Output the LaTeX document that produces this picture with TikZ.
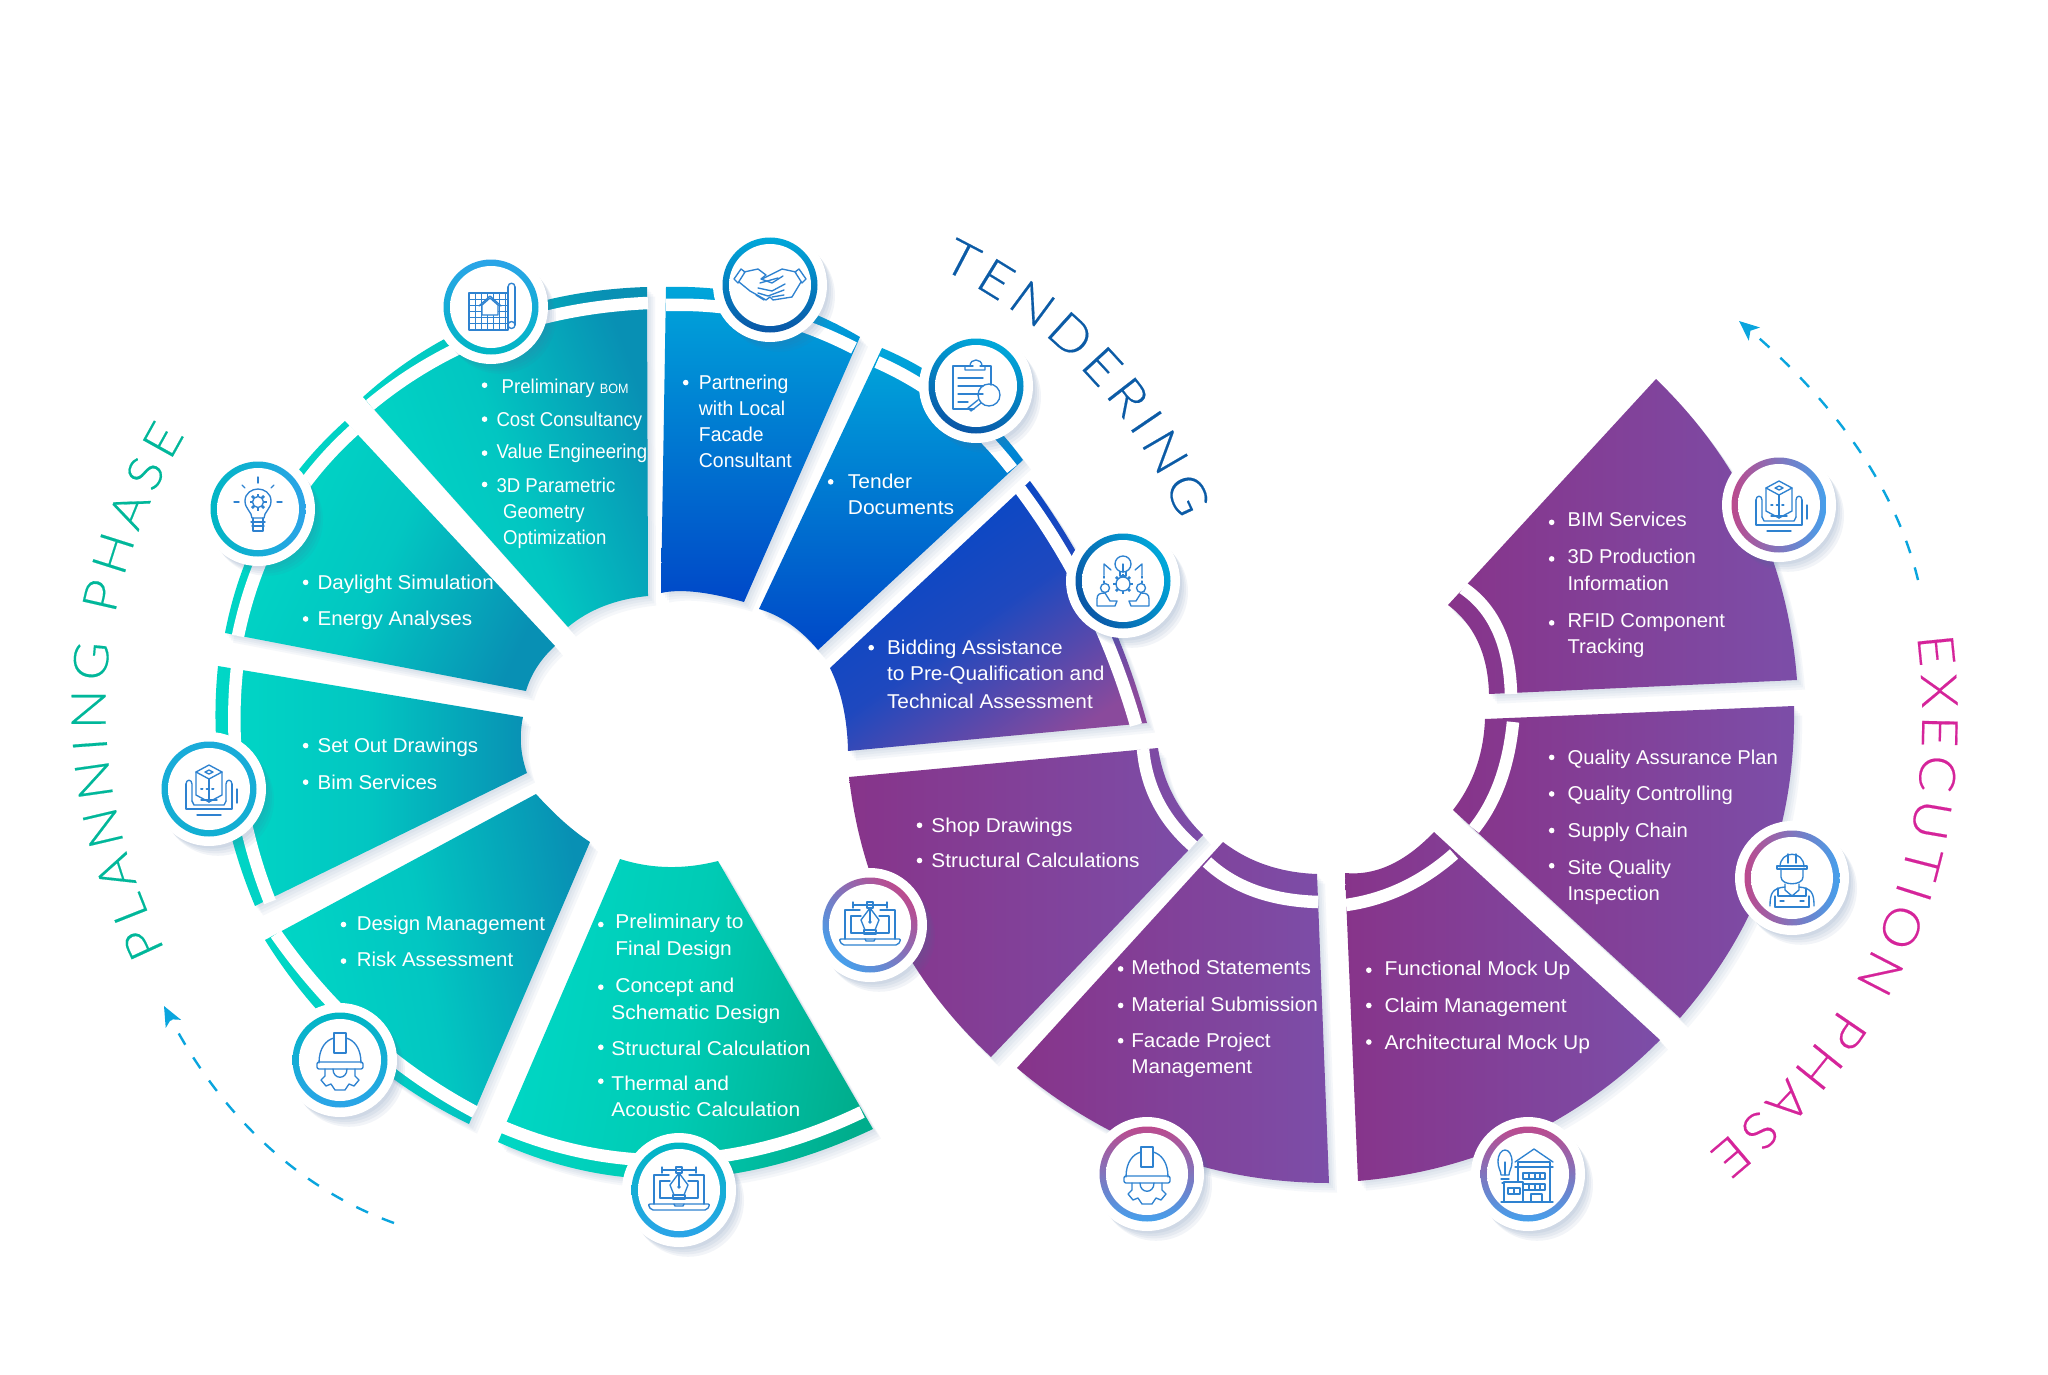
\documentclass[tikz,border=0pt]{standalone}
\usepackage{fontspec}
\setmainfont{Liberation Sans}
\newfontfamily\titlefont[FakeStretch=1.1,FakeBold=0.35]{Lato Light}
\usetikzlibrary{calc,arrows.meta,decorations.text}
\definecolor{tealA}{HTML}{00D8C6}
\definecolor{tealB}{HTML}{0890B4}
\definecolor{tealC}{HTML}{00AD8C}
\definecolor{blueA}{HTML}{00A6DA}
\definecolor{blueB}{HTML}{0048C8}
\definecolor{blueC}{HTML}{8A4A9C}
\definecolor{purpA}{HTML}{87348A}
\definecolor{purpB}{HTML}{7C4EA8}
\definecolor{shcol}{HTML}{4A6F9E}
\definecolor{icol}{HTML}{2E82D0}
\definecolor{diskc}{HTML}{CFE0FA}
\definecolor{dashc}{HTML}{0AA5DE}
\definecolor{plancol}{HTML}{00B79A}
\definecolor{tendcol}{HTML}{0B5BA6}
\definecolor{execcol}{HTML}{D5249A}
\definecolor{rbA}{HTML}{2BA4E8}
\definecolor{rbT}{HTML}{00B6C4}
\definecolor{rcT}{HTML}{00A8DA}
\definecolor{rcB}{HTML}{0A56A6}
\definecolor{mauve}{HTML}{BC4A8E}
\definecolor{skyb}{HTML}{45A0EC}
\pgfdeclareradialshading{diskshade}{\pgfpoint{0bp}{0bp}}{color(0bp)=(white); color(26bp)=(white); color(50bp)=(diskc)}
\newcommand{\thru}[3]{.. controls ($1.3333*(#2)-0.3333*(#3)$) and ($1.3333*(#2)-0.3333*(#1)$) .. (#3)}
\newcommand{\sect}[3]{%
  \foreach \s in {2,4,6,8}{\fill[shcol,opacity=.05,shift={(\s,1.2*\s)}] #1;}
  \shade[#2] #1;
  \draw[white,line width=12.5pt] #3;
}
\newcounter{tn}
\def\tsc{1}
\newcommand{\bul}[2]{\fill[white] (#1,#2) circle (2.8pt);}
\newcommand{\tline}[3]{\stepcounter{tn}\node[itemtext,xscale=\tsc,name=t\arabic{tn}] at (#1,#2) {#3};}
\newcommand{\badge}[3]{%
  \begin{scope}[shift={(#1)}]
    \foreach \s in {3,5,7,9}{\fill[shcol,opacity=.07] (\s,1.2*\s) circle (56);}
    \fill[white] (0,0) circle (57);
    \shade[#2] (0,0) circle (47.5);
    \shade[shading=diskshade] (0,0) circle (41);
    \begin{scope}[icol,line width=1.35pt,line join=round,line cap=round]#3\end{scope}
  \end{scope}
}
\newcommand{\gearat}[3]{%
  \draw (#1,#2) circle (#3);
  \foreach \a in {0,45,...,315}{\draw[line width=2.8pt,line cap=butt] ($(#1,#2)+(\a:#3)$) -- ($(#1,#2)+(\a:#3+3)$);}
}
\newcommand{\icoplan}{%
  \draw (-22,-14) rectangle (17,23);
  \foreach \x in {-16,-10,-4,2,8,14}{\draw[line width=.9pt] (\x,-14) -- (\x,23);}
  \foreach \y in {-8,-2,4,10,16}{\draw[line width=.9pt] (-22,\y) -- (17,\y);}
  \fill[white] (-9,8) -- (-9,-2) -- (-1,-9) -- (7,-2) -- (7,8) -- cycle;
  \draw (-9,8) -- (-9,-2) -- (-1,-9) -- (7,-2) -- (7,8) -- cycle;
  \draw (-12,-1) -- (-1,-11) -- (10,-1);
  \draw (17,-20) -- (17,18) (24,-20) -- (24,18);
  \draw (17,-20) .. controls (17,-25) and (24,-25) .. (24,-20);
  \draw (20.5,18) circle (3.5);
}
\newcommand{\icohands}{%
  \draw (-36,-6) -- (-29,-16) -- (-25,-13) -- (-32,-2) -- cycle;
  \draw (36,-6) -- (29,-16) -- (25,-13) -- (32,-2) -- cycle;
  \draw (-26,-13) -- (-12,-16) -- (-4,-10) -- (-9,-6) -- (2,-2) -- (13,-9);
  \draw (26,-13) -- (12,-16) -- (2,-11) -- (-8,-6);
  \draw (-31,-3) -- (-20,6) -- (-4,15) -- (0,12);
  \draw (31,-3) -- (22,12) -- (3,15) -- (0,12);
  \draw (-10,-2) -- (8,-7);
  \draw (-12,3) -- (2,6) -- (15,-1);
  \draw (-12,8) -- (-2,11) -- (14,5);
  \draw (-14,10) -- (-6,15);
  \draw (2,12) -- (14,10);
}
\newcommand{\icoclip}{%
  \draw (-3,-20) -- (-23,-20) -- (-23,23) -- (-2,23);
  \draw (4,-20) -- (15,-20) -- (15,-1);
  \draw (-11,-16) -- (-11,-20) -- (-6,-20) .. controls (-6,-28) and (6,-28) .. (6,-20) -- (9,-20) -- (9,-16) -- cycle;
  \foreach \y in {-8,0,8}{\draw (-18,\y) -- (7,\y);}
  \draw (-18,16) -- (-8,16);
  \draw (13,9) circle (11);
  \draw (5,17) -- (-5,25) -- (-8,22) -- (2,14);
}
\newcommand{\icoteam}{%
  \draw (0,-17) circle (8);
  \draw (-3,-9) -- (-3,-5) -- (3,-5) -- (3,-9);
  \draw (0,-17) -- (0,-9);
  \draw (-19,-6) -- (-19,-17) -- (-12,-11);
  \draw (19,-6) -- (19,-17) -- (12,-11);
  \gearat{0}{3}{7}
  \draw[dash pattern=on 2pt off 3pt] (-19,-5) -- (-19,2);
  \draw[dash pattern=on 2pt off 3pt] (19,-5) -- (19,2);
  \draw (-18,7) circle (4.5);
  \draw (18,7) circle (4.5);
  \draw (-26,25) -- (-26,18) .. controls (-26,13) and (-23,12) .. (-18,12) -- (-13,20) -- (-6,20) -- (-8,25) -- cycle;
  \draw (26,25) -- (26,18) .. controls (26,13) and (23,12) .. (18,12) -- (13,20) -- (6,20) -- (8,25) -- cycle;
}
\newcommand{\icobulb}{%
  \draw (-6,9) .. controls (-6,3) and (-13,0) .. (-13,-8) .. controls (-13,-16) and (-6,-20) .. (0,-20) .. controls (6,-20) and (13,-16) .. (13,-8) .. controls (13,0) and (6,3) .. (6,9) -- cycle;
  \gearat{0}{-7}{5.5}
  \draw (-7,13) -- (7,13);
  \draw (-6,17) -- (6,17);
  \draw (-5,9) -- (-5,22) -- (5,22) -- (5,9);
  \draw (0,-32) -- (0,-26);
  \draw (-16,-24) -- (-13,-21);
  \draw (16,-24) -- (13,-21);
  \draw (-24,-7) -- (-19,-7);
  \draw (24,-7) -- (19,-7);
}
\newcommand{\icobim}{%
  \draw (-13,-17) -- (0,-24) -- (13,-17) -- (0,-10) -- cycle;
  \draw (-13,-17) -- (-13,6) -- (0,13) -- (13,6) -- (13,-17);
  \draw (0,-10) -- (0,13);
  \draw (-4,-17) -- (0,-19) -- (4,-17) -- (0,-15) -- cycle;
  \draw (-23,-5) -- (-23,20) -- (23,20) -- (23,-5);
  \draw (-23,-5) .. controls (-23,-10) and (-17,-10) .. (-17,-5) -- (-17,12);
  \draw (23,-5) .. controls (23,-10) and (17,-10) .. (17,-5) -- (17,12);
  \draw (-17,12) -- (-15,16) -- (15,16) -- (17,12);
  \draw (-8,11) -- (8,11);
  \draw (-12,26) -- (12,26);
  \draw (28,0) -- (28,14);
  \draw[line width=2pt,dash pattern=on 1.5pt off 4pt] (-8,0) -- (8,0);
}
\newcommand{\icohelmet}{%
  \draw (-21,3) .. controls (-21,-12) and (-14,-20) .. (-6,-22);
  \draw (21,3) .. controls (21,-12) and (14,-20) .. (6,-22);
  \draw (-6,-7) -- (-6,-27) -- (6,-27) -- (6,-7) -- cycle;
  \draw[rounded corners=2pt] (-23,2) rectangle (23,9);
  \draw (-15,9) -- (-15,16) -- (-19,20) -- (-14,26) -- (-9,24) -- (-5,30) -- (5,30) -- (9,24) -- (14,26) -- (19,20) -- (15,16) -- (15,9);
  \draw (-7,9) .. controls (-7,20) and (7,20) .. (7,9);
}
\newcommand{\icopen}{%
  \draw (-25,14) -- (-25,-15) -- (-10,-15);
  \draw (10,-15) -- (25,-15) -- (25,14);
  \draw (-19,8) -- (-19,-9) -- (-9,-9);
  \draw (9,-9) -- (19,-9) -- (19,8) -- (-19,8);
  \draw[rounded corners=2pt] (-31,14) -- (31,14) -- (28,20) -- (-28,20) -- cycle;
  \draw (-5,14) -- (-4,16) -- (4,16) -- (5,14);
  \draw (-17,-20) -- (17,-20);
  \draw (-17,-23) -- (-17,-17);
  \draw (17,-23) -- (17,-17);
  \draw (-3,-23) rectangle (3,-17);
  \draw (0,-17) -- (-9,-5) -- (-5,5) -- (5,5) -- (9,-5) -- cycle;
  \draw (0,-17) -- (0,-4);
  \fill[icol] (0,-3) circle (1.8);
  \draw (-6,9) rectangle (6,5);
}
\newcommand{\icobuild}{%
  \draw (-30,-12) .. controls (-30,-28) and (-16,-28) .. (-16,-12) .. controls (-16,-6) and (-19,-3) .. (-19,1) -- (-27,1) .. controls (-27,-3) and (-30,-6) .. (-30,-12) -- cycle;
  \draw (-27,5) -- (-19,5);
  \draw (-26,9) -- (-20,9);
  \draw (-23,1) -- (-23,-12);
  \draw (-10,28) -- (-10,-12) -- (22,-12) -- (22,28) -- cycle;
  \draw (-13,-12) -- (6,-25) -- (25,-12);
  \draw (-13,-7) -- (25,-7);
  \draw (-5,-1) rectangle (17,5);
  \draw (1,-1) -- (1,5) (7,-1) -- (7,5) (12,-1) -- (12,5);
  \draw (-5,10) rectangle (17,16);
  \draw (1,10) -- (1,16) (7,10) -- (7,16) (12,10) -- (12,16);
  \fill[white] (-24,8) rectangle (-5,28);
  \draw (-24,28) -- (-24,8) -- (-5,8) -- (-5,28);
  \draw (-27,28) -- (25,28);
  \draw (-20,14) rectangle (-8,20);
  \draw (-14,14) -- (-14,20);
  \draw (3,28) -- (3,20) -- (14,20) -- (14,28);
}
\newcommand{\icoworker}{%
  \draw (-12,-11) .. controls (-12,-28) and (12,-28) .. (12,-11);
  \draw (-15,-9) -- (15,-9) -- (15,-12) -- (-15,-12) -- cycle;
  \draw (-4,-24) -- (-4,-15) (4,-24) -- (4,-15);
  \draw (-11,-8) -- (-11,-1) .. controls (-11,8) and (11,8) .. (11,-1) -- (11,-8);
  \draw (-7,6) -- (-7,12) -- (0,18) -- (7,12) -- (7,6);
  \draw (-22,28) .. controls (-22,16) and (-20,10) .. (-7,9);
  \draw (22,28) .. controls (22,16) and (20,10) .. (7,9);
  \draw (-14,10) -- (-14,18) -- (14,18) -- (14,10);
  \draw (-17,29) -- (-17,18) (17,29) -- (17,18);
  \draw (-17,29) -- (17,29);
  \draw (-12,23) -- (-8,23) (8,23) -- (12,23);
}
\tikzset{
  itemtext/.style={anchor=base west,inner sep=0pt,text=white,yshift=-7pt,font=\fontsize{20}{24}\selectfont},
  tealshade/.style={left color=tealA,right color=tealB,middle color=tealA!75!tealB},
  blueshade/.style={top color=blueA,bottom color=blueB,middle color=blueA!50!blueB},
  purpshade/.style={left color=purpA,right color=purpB},
  dasharc/.style={dashc,line width=2.4pt,dash pattern=on 13pt off 15pt,-{Stealth[length=20pt,width=17pt,inset=5pt]}},
}
\begin{document}
\begin{tikzpicture}[x=1pt,y=-1pt]
\useasboundingbox (0,0) rectangle (2048,1375);
\fill[white] (0,0) rectangle (2048,1375);
% ---- left wheel
\sect{(363,397) \thru{363,397}{492,317}{647,287} -- (648,596) \thru{648,596}{604,606}{568,627} -- cycle}
     {tealshade,shading angle=110}
     {(370,405) \thru{370,405}{497,332}{648,303}}
\sect{(225,633) \thru{225,633}{267,517}{345,421} -- (555,646) \thru{555,646}{537,667}{526,691} -- cycle}
     {tealshade,shading angle=65}
     {(238,636) \thru{238,636}{280,522}{354,430}}
\sect{(218,666) \thru{218,666}{221,787}{255,906} -- (527,773) \thru{527,773}{521,745}{523,717} -- cycle}
     {tealshade,shading angle=90}
     {(237,668) \thru{237,668}{239,786}{270,902}}
\sect{(265,940) \thru{265,940}{354,1047}{469,1124} -- (590,842) \thru{590,842}{564,822}{536,794} -- cycle}
     {tealshade,shading angle=100}
     {(276,934) \thru{276,934}{366,1036}{475,1112}}
\sect{(620,859) \thru{620,859}{668,867}{718,861} -- (873,1129) \thru{873,1129}{680,1179}{498,1142} -- cycle}
     {left color=tealA,right color=tealC,middle color=tealA!70!tealC,shading angle=80}
     {(862,1112) \thru{862,1112}{680,1160}{503,1127}}
\sect{(666,287) \thru{666,287}{767,298}{860,337} -- (744,602) \thru{744,602}{696,592}{661,593} -- cycle}
     {blueshade}
     {(666,305) \thru{666,305}{762,314}{854,348}}
\sect{(882,348) \thru{882,348}{960,394}{1023,460} -- (818,650) \thru{818,650}{790,624}{759,609} -- cycle}
     {blueshade}
     {(877,362) \thru{877,362}{950,406}{1012,469}}
\sect{(1030,481) \thru{1030,481}{1100,597}{1147,723} -- (848,751) \thru{848,751}{843,706}{830,668} -- cycle}
     {left color=blueB,right color=blueC,middle color=blueB!78!blueC,shading angle=35}
     {(1020,489) \thru{1020,489}{1088,600}{1136,725}}
% ---- right wheel
\sect{(849,777) -- (1158,748) \thru{1158,748}{1173,795}{1203,835} -- (991,1057) \thru{991,1057}{894,930}{849,777} -- cycle}
     {purpshade}
     {(1143,749) \thru{1143,749}{1158,802}{1193,846}}
\sect{(1223,842) \thru{1223,842}{1266,865}{1317,874} -- (1329,1183) \thru{1329,1183}{1163,1154}{1017,1068} -- cycle}
     {purpshade}
     {(1207,862) \thru{1207,862}{1255,891}{1318,902}}
\sect{(1345,873) \thru{1345,873}{1390,865}{1434,832} -- (1660,1040) \thru{1660,1040}{1522,1138}{1358,1181} -- cycle}
     {purpshade}
     {(1346,905) \thru{1346,905}{1403,888}{1454,854}}
\sect{(1485,719) -- (1794,706) \thru{1794,706}{1767,873}{1680,1018} -- (1453,810) \thru{1453,810}{1476,768}{1485,719} -- cycle}
     {purpshade}
     {(1513,722) \thru{1513,722}{1500,782}{1474,829}}
\sect{(1656,379) \thru{1656,379}{1755,516}{1797,680} -- (1489,694) \thru{1489,694}{1478,642}{1448,605} -- cycle}
     {purpshade}
     {(1511,694) \thru{1511,694}{1498,630}{1463,588}}
% ---- badges
\badge{491,307}{top color=rbA,bottom color=rbT}{\icoplan}
\badge{770,285}{top color=rcT,bottom color=rcB}{\icohands}
\badge{976,386}{top color=rcT,bottom color=rcB,shading angle=-20}{\icoclip}
\badge{1123,581}{left color=rcB,right color=rcT,shading angle=120}{\icoteam}
\badge{258,509}{left color=rbT,right color=rbA}{\icobulb}
\badge{209,789}{top color=rbT!40!rbA,bottom color=rbT!60!rbA}{\icobim}
\badge{340,1060}{top color=rbT,bottom color=rbA}{\icohelmet}
\badge{679,1190}{top color=rbT,bottom color=rbA}{\icopen}
\badge{870,925}{left color=skyb,right color=mauve,shading angle=135}{\icopen}
\badge{1147,1174}{top color=mauve,bottom color=skyb}{\icohelmet}
\badge{1528,1174}{top color=mauve,bottom color=skyb}{\icobuild}
\badge{1792,878}{left color=mauve,right color=skyb}{\icoworker}
\badge{1779,505}{left color=mauve,right color=skyb}{\icobim}
% ---- list text, in coordinates of the 1568 wide view
\begin{scope}[x=1.30612pt,y=-1.3058pt]
\def\tsc{.93}
\bul{371}{295}\tline{384}{296}{Preliminary {\fontsize{13.5}{13.5}\selectfont BOM}}
\bul{371}{321}\tline{380}{321}{Cost Consultancy}
\bul{371}{347}\tline{380}{346}{Value Engineering}
\bul{371}{371}\tline{380}{372}{3D Parametric}
\tline{385}{392}{Geometry}
\tline{385}{412}{Optimization}
\def\tsc{.97}
\bul{525}{293}\tline{535}{293}{Partnering}
\tline{535}{313}{with Local}
\tline{535}{333}{Facade}
\tline{535}{353}{Consultant}
\def\tsc{1.05}
\bul{636}{369}\tline{649}{369}{Tender}
\tline{649}{389}{Documents}
\def\tsc{1.04}
\bul{667}{496}\tline{679}{496}{Bidding Assistance}
\tline{679}{516}{to Pre-Qualification and}
\tline{679}{537}{Technical Assessment}
\def\tsc{1.03}
\bul{234}{446}\tline{243}{446}{Daylight Simulation}
\bul{234}{474}\tline{243}{474}{Energy Analyses}
\def\tsc{1.025}
\bul{234}{571}\tline{243}{571}{Set Out Drawings}
\bul{234}{599}\tline{243}{599}{Bim Services}
\def\tsc{1.02}
\bul{263}{708}\tline{273}{707}{Design Management}
\bul{263}{736}\tline{273}{735}{Risk Assessment}
\def\tsc{1.048}
\bul{460}{708}\tline{471}{706}{Preliminary to}
\tline{471}{726}{Final Design}
\bul{460}{756}\tline{471}{755}{Concept and}
\tline{468}{775}{Schematic Design}
\bul{460}{802}\tline{468}{803}{Structural Calculation}
\bul{460}{828}\tline{468}{830}{Thermal and}
\tline{468}{850}{Acoustic Calculation}
\def\tsc{1.04}
\bul{704}{632}\tline{713}{632}{Shop Drawings}
\bul{704}{659}\tline{713}{659}{Structural Calculations}
\def\tsc{1.036}
\bul{858}{742}\tline{866}{741}{Method Statements}
\bul{858}{770}\tline{866}{769}{Material Submission}
\bul{858}{797}\tline{866}{797}{Facade Project}
\tline{866}{817}{Management}
\def\tsc{1.05}
\bul{1048}{743}\tline{1060}{742}{Functional Mock Up}
\bul{1048}{770}\tline{1060}{770}{Claim Management}
\bul{1048}{798}\tline{1060}{798}{Architectural Mock Up}
\def\tsc{1.012}
\bul{1188}{580}\tline{1200}{580}{Quality Assurance Plan}
\bul{1188}{608}\tline{1200}{608}{Quality Controlling}
\bul{1188}{636}\tline{1200}{636}{Supply Chain}
\bul{1188}{663}\tline{1200}{664}{Site Quality}
\tline{1200}{684}{Inspection}
\bul{1188}{400}\tline{1200}{398}{BIM Services}
\bul{1188}{428}\tline{1200}{426}{3D Production}
\tline{1200}{447}{Information}
\bul{1188}{477}\tline{1200}{475}{RFID Component}
\tline{1200}{495}{Tracking}
\end{scope}
% ---- titles
\path[decorate,decoration={text along path,text align={fit to path},text color=plancol,text={|\titlefont\fontsize{48}{48}\selectfont|PLANNING PHASE}}]
  (165,950) \thru{165,950}{106,690}{185,435};
\path[decorate,decoration={text along path,text align={fit to path},text color=tendcol,text={|\titlefont\fontsize{49}{49}\selectfont|TENDERING}}]
  (940,268) \thru{940,268}{1084,372}{1180,520};
\path[decorate,decoration={text along path,text align={fit to path},text color=execcol,text={|\titlefont\fontsize{50}{50}\selectfont|EXECUTION PHASE}}]
  (1917,636) \thru{1917,636}{1884,923}{1708,1153};
% ---- dashed arrows
\coordinate (aS) at (394,1223);
\coordinate (aE) at (164,1006);
\coordinate (bS) at (1918,580);
\coordinate (bE) at (1739,321);
\draw[dasharc] (aS) \thru{394,1223}{265,1143}{164,1006};
\draw[dasharc] (bS) \thru{1918,580}{1857,448}{1739,321};
\end{tikzpicture}
\end{document}
